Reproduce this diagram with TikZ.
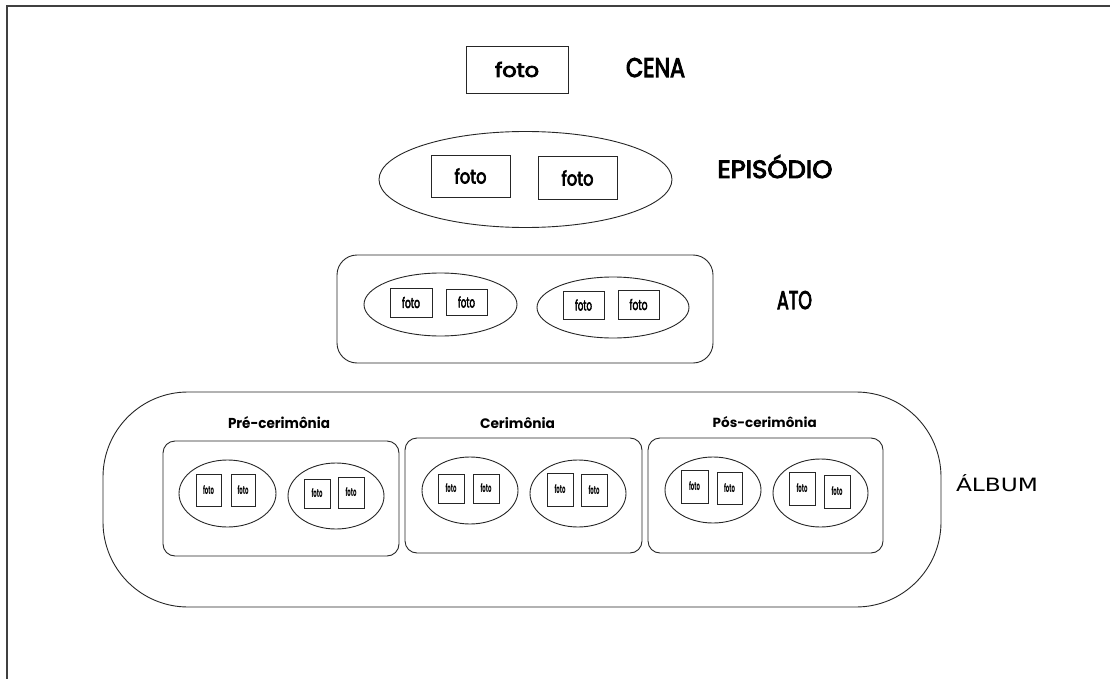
\documentclass[tikz,border=0pt]{standalone}
\usepackage{fontspec}
\setmainfont{Poppins}
\newfontfamily\medfont{Poppins}[FakeBold=4]
\newfontfamily\albumfont{DejaVu Sans}
\usetikzlibrary{shapes.geometric}
\newcommand\fittxt[3]{\resizebox{#1pt}{#2pt}{\bfseries #3}}
\newcommand\fitmed[3]{\resizebox{#1pt}{#2pt}{\medfont #3}}
\tikzset{
  line/.style={draw=black!85, line width=0.9pt},
  photo/.style={line, rectangle, inner sep=0pt},
  group/.style={line, ellipse, inner sep=0pt},
  panel/.style={line, rectangle, rounded corners=#1, inner sep=0pt},
  label/.style={inner sep=0pt, anchor=base},
}
\begin{document}
\begin{tikzpicture}[x=1pt,y=-1pt]
\useasboundingbox (0,0) rectangle (1110,679);
% frame
\coordinate (ftl) at (7,6);
\coordinate (ftr) at (1110,6);
\coordinate (fbl) at (7,679);
\draw[line width=1.3pt, black!75] (ftr) -- (ftl) -- (fbl);

% CENA
\node[photo, minimum width=102pt, minimum height=47pt] (cena) at (517,69.5) {\fitmed{44}{15}{foto}};
\node[label] (cenaL) at (655.5,77) {\fitmed{59}{19}{CENA}};

% EPISODIO
\node[group, minimum width=293pt, minimum height=96pt] (ep) at (525.5,179.5) {};
\node[photo, minimum width=79pt, minimum height=42pt] (ep1) at (470.5,176) {\fitmed{32}{15}{foto}};
\node[photo, minimum width=79pt, minimum height=43pt] (ep2) at (577.5,178) {\fitmed{32}{15}{foto}};
\node[label] (epL) at (775,178) {\fitmed{115}{23}{EPISÓDIO}};

% ATO
\node[panel=20pt, minimum width=376pt, minimum height=108pt] (ato) at (525,309) {};
\node[group, minimum width=153pt, minimum height=63pt] (atoE1) at (440.5,304.5) {};
\node[group, minimum width=152pt, minimum height=61pt] (atoE2) at (613,307.5) {};
\node[photo, minimum width=42pt, minimum height=29pt] (atoP1) at (411,302.5) {\fitmed{18}{11}{foto}};
\node[photo, minimum width=41pt, minimum height=26pt] (atoP2) at (466.5,302) {\fitmed{17}{11}{foto}};
\node[photo, minimum width=41pt, minimum height=28pt] (atoP3) at (583.5,305) {\fitmed{17}{11}{foto}};
\node[photo, minimum width=41pt, minimum height=29pt] (atoP4) at (638.5,304.5) {\fitmed{18}{11}{foto}};
\node[label] (atoL) at (794.5,309) {\fitmed{35}{18}{ATO}};

% ALBUM
\node[panel=85pt, minimum width=838pt, minimum height=215pt] (album) at (522,499.5) {};
\node[label] (albumL) at (997,491) {\albumfont\resizebox{82pt}{17pt}{ÁLBUM}};

% Pre-cerimonia
\node[panel=12pt, minimum width=236pt, minimum height=115pt] (pre) at (281,498.5) {};
\node[label] (preL) at (279,428) {\fittxt{102}{12}{Pré-cerimônia}};
\node[group, minimum width=97pt, minimum height=67pt] (preE1) at (227.5,493.5) {};
\node[group, minimum width=96pt, minimum height=66pt] (preE2) at (336,496) {};
\node[photo, minimum width=25pt, minimum height=32pt] (preP1) at (208.5,490) {\fittxt{11}{9}{foto}};
\node[photo, minimum width=24pt, minimum height=32pt] (preP2) at (243,490) {\fittxt{11}{9}{foto}};
\node[photo, minimum width=26pt, minimum height=29pt] (preP3) at (317,493.5) {\fittxt{11}{9}{foto}};
\node[photo, minimum width=26pt, minimum height=31pt] (preP4) at (351,492.5) {\fittxt{11}{9}{foto}};

% Cerimonia
\node[panel=12pt, minimum width=237pt, minimum height=115pt] (cer) at (523.5,495.5) {};
\node[label] (cerL) at (517.5,428) {\fittxt{75}{11}{Cerimônia}};
\node[group, minimum width=96pt, minimum height=67pt] (cerE1) at (470,490.5) {};
\node[group, minimum width=96pt, minimum height=67pt] (cerE2) at (578,493.5) {};
\node[photo, minimum width=26pt, minimum height=29pt] (cerP1) at (451,488.5) {\fittxt{11}{9}{foto}};
\node[photo, minimum width=26pt, minimum height=29pt] (cerP2) at (486,488.5) {\fittxt{11}{9}{foto}};
\node[photo, minimum width=26pt, minimum height=33pt] (cerP3) at (560,489.5) {\fittxt{11}{9}{foto}};
\node[photo, minimum width=26pt, minimum height=32pt] (cerP4) at (594,490) {\fittxt{11}{9}{foto}};

% Pos-cerimonia
\node[panel=12pt, minimum width=235pt, minimum height=115pt] (pos) at (765.5,495.5) {};
\node[label] (posL) at (764.7,427) {\fittxt{104}{11}{Pós-cerimônia}};
\node[group, minimum width=96pt, minimum height=66pt] (posE1) at (713,490) {};
\node[group, minimum width=95pt, minimum height=68pt] (posE2) at (820.5,493) {};
\node[photo, minimum width=27pt, minimum height=33pt] (posP1) at (694.5,486.5) {\fittxt{11}{9}{foto}};
\node[photo, minimum width=25pt, minimum height=32pt] (posP2) at (729.5,488) {\fittxt{11}{9}{foto}};
\node[photo, minimum width=26pt, minimum height=33pt] (posP3) at (802,488.5) {\fittxt{11}{9}{foto}};
\node[photo, minimum width=26pt, minimum height=33pt] (posP4) at (837,491.5) {\fittxt{11}{9}{foto}};
\end{tikzpicture}
\end{document}
